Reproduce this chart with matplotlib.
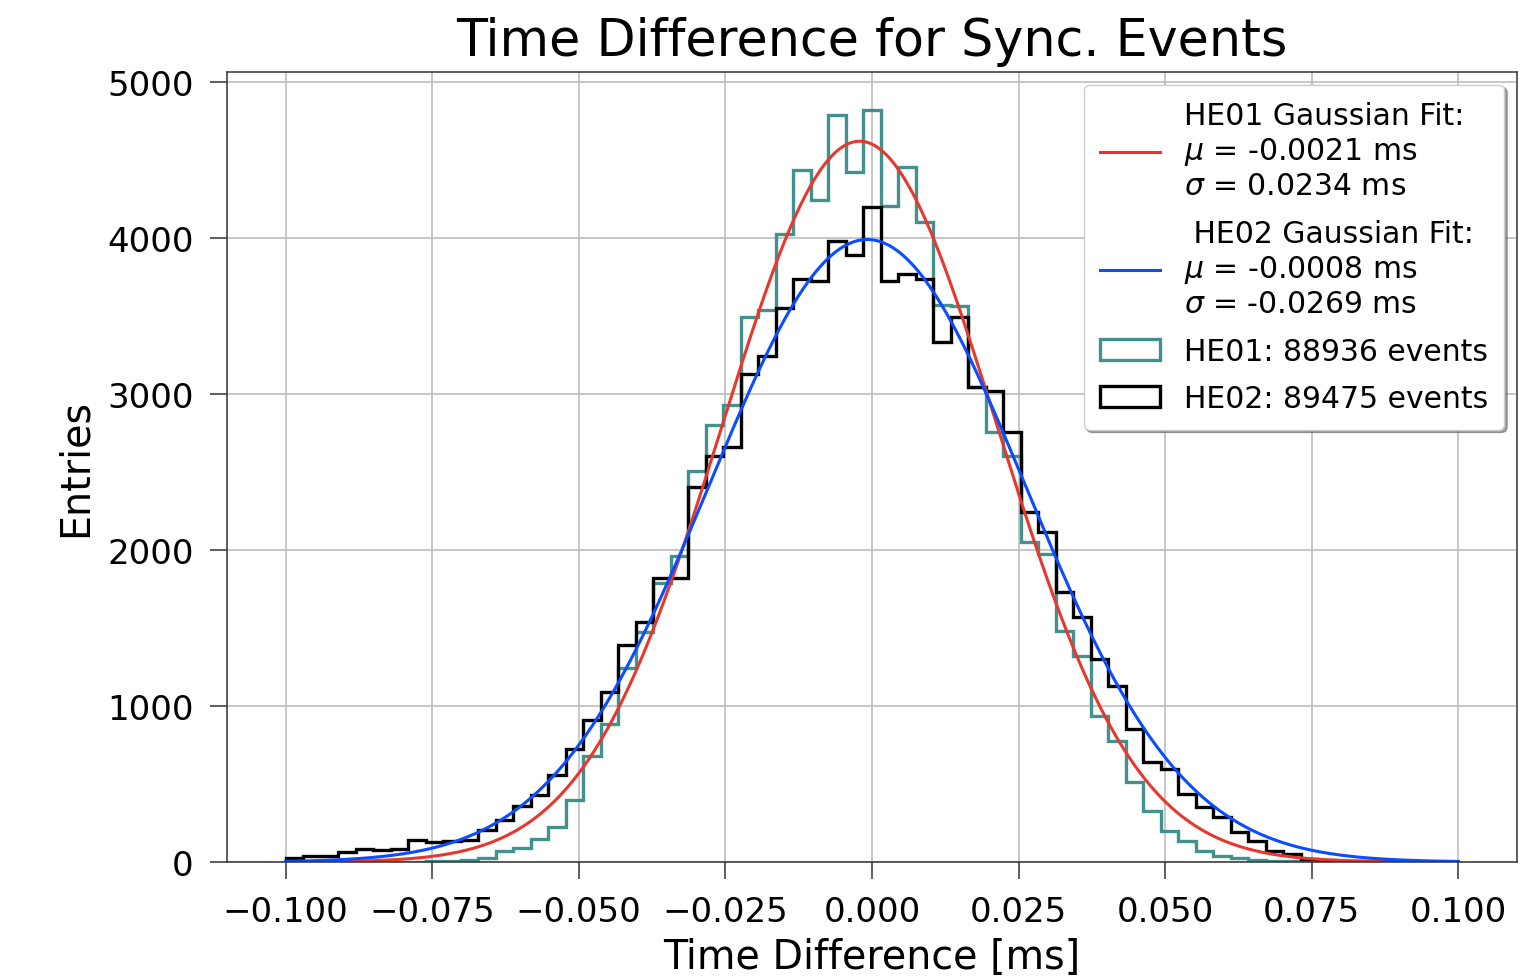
import numpy as np
import matplotlib
matplotlib.use("Agg")
import matplotlib.pyplot as plt

# histogram binning: 67 bins between -0.1 and 0.1 ms
bin_lo, bin_hi, n_bins = -0.1, 0.1, 67

# HE01 counts per bin
he01_counts = [0, 0, 0, 0, 1, 1, 2, 3, 5, 7,
               12, 26, 68, 90, 150, 225, 400, 681, 885, 1245,
               1472, 1790, 1964, 2509, 2801, 2929, 3491, 3540, 4026, 4436,
               4244, 4788, 4420, 4823, 4207, 4452, 4100, 3570, 3566, 3043,
               2756, 2605, 2049, 1974, 1482, 1322, 938, 778, 511, 329,
               201, 134, 73, 40, 23, 15, 8, 5, 3, 2,
               1, 1, 0, 0, 0, 0, 0]

# HE02 counts per bin
he02_counts = [25, 40, 40, 66, 83, 75, 83, 139, 126, 137,
               143, 203, 271, 357, 432, 560, 724, 910, 1088, 1390,
               1536, 1820, 1820, 2402, 2605, 2658, 3128, 3246, 3549, 3737,
               3726, 3983, 3890, 4196, 3726, 3769, 3737, 3331, 3491, 3043,
               3021, 2758, 2241, 2113, 1729, 1569, 1301, 1130, 853, 639,
               596, 436, 350, 286, 190, 137, 73, 51, 19, 12,
               8, 5, 3, 2, 1, 1, 1]

# gaussian fit parameters (amplitude, mu/sigma from legend)
fit_amp = [4620, 3990]
fit_mu = [-0.0021, -0.0008]
fit_sigma = [0.0234, -0.0269]

hist_labels = ["HE01: 88936 events", "HE02: 89475 events"]
fit_labels = ["HE01 Gaussian Fit:\n$\\mu$ = -0.0021 ms\n$\\sigma$ = 0.0234 ms",
              " HE02 Gaussian Fit:\n$\\mu$ = -0.0008 ms\n$\\sigma$ = -0.0269 ms"]

hist_colors = ["#42918d", "black"]
fit_colors = ["#e8372f", "#0a4cff"]

edges = np.linspace(bin_lo, bin_hi, n_bins + 1)
centers = 0.5 * (edges[:-1] + edges[1:])

fig = plt.figure(figsize=(15.23, 9.78), dpi=100)
ax = fig.add_axes([0.149, 0.1176, 0.847, 0.8078])

hist_handles = []
for counts, col, lab in zip([he01_counts, he02_counts], hist_colors, hist_labels):
    _, _, p = ax.hist(centers, bins=edges, weights=counts, histtype="step",
                      color=col, linewidth=2.4, label=lab)
    hist_handles.append(p[0])

fit_handles = []
xs = np.linspace(bin_lo, bin_hi, 500)
for a, m, s, col, lab in zip(fit_amp, fit_mu, fit_sigma, fit_colors, fit_labels):
    ln, = ax.plot(xs, a * np.exp(-0.5 * ((xs - m) / s) ** 2), color=col,
                  linewidth=2.2, label=lab)
    fit_handles.append(ln)

ax.set_xlim(-0.11, 0.11)
ax.set_ylim(0, 5064)
ax.set_xticks(np.linspace(-0.1, 0.1, 9))
ax.set_yticks([0, 1000, 2000, 3000, 4000, 5000])
ax.xaxis.set_major_formatter(matplotlib.ticker.FuncFormatter(
    lambda v, p: ("%.3f" % v).replace("-", "\u2212") if abs(v) > 1e-9 else "0.000"))

ax.grid(True, color="#b8b8b8", linewidth=1.1)
ax.set_axisbelow(True)
ax.tick_params(labelsize=24.5, length=12, width=1.1, color="#333333", pad=12)
for sp in ax.spines.values():
    sp.set_color("#333333")
    sp.set_linewidth(1.1)

ax.set_title("Time Difference for Sync. Events", fontsize=36.5, pad=12)
ax.set_xlabel("Time Difference [ms]", fontsize=28.5, labelpad=6)
ax.set_ylabel("Entries", fontsize=28.5, labelpad=8)

ax.legend(handles=fit_handles + hist_handles, loc="upper right", fontsize=21.5,
          shadow=True, fancybox=True, borderaxespad=0.42, labelspacing=0.62,
          handletextpad=0.8, borderpad=0.55)

fig.savefig("out.png", dpi=100)
